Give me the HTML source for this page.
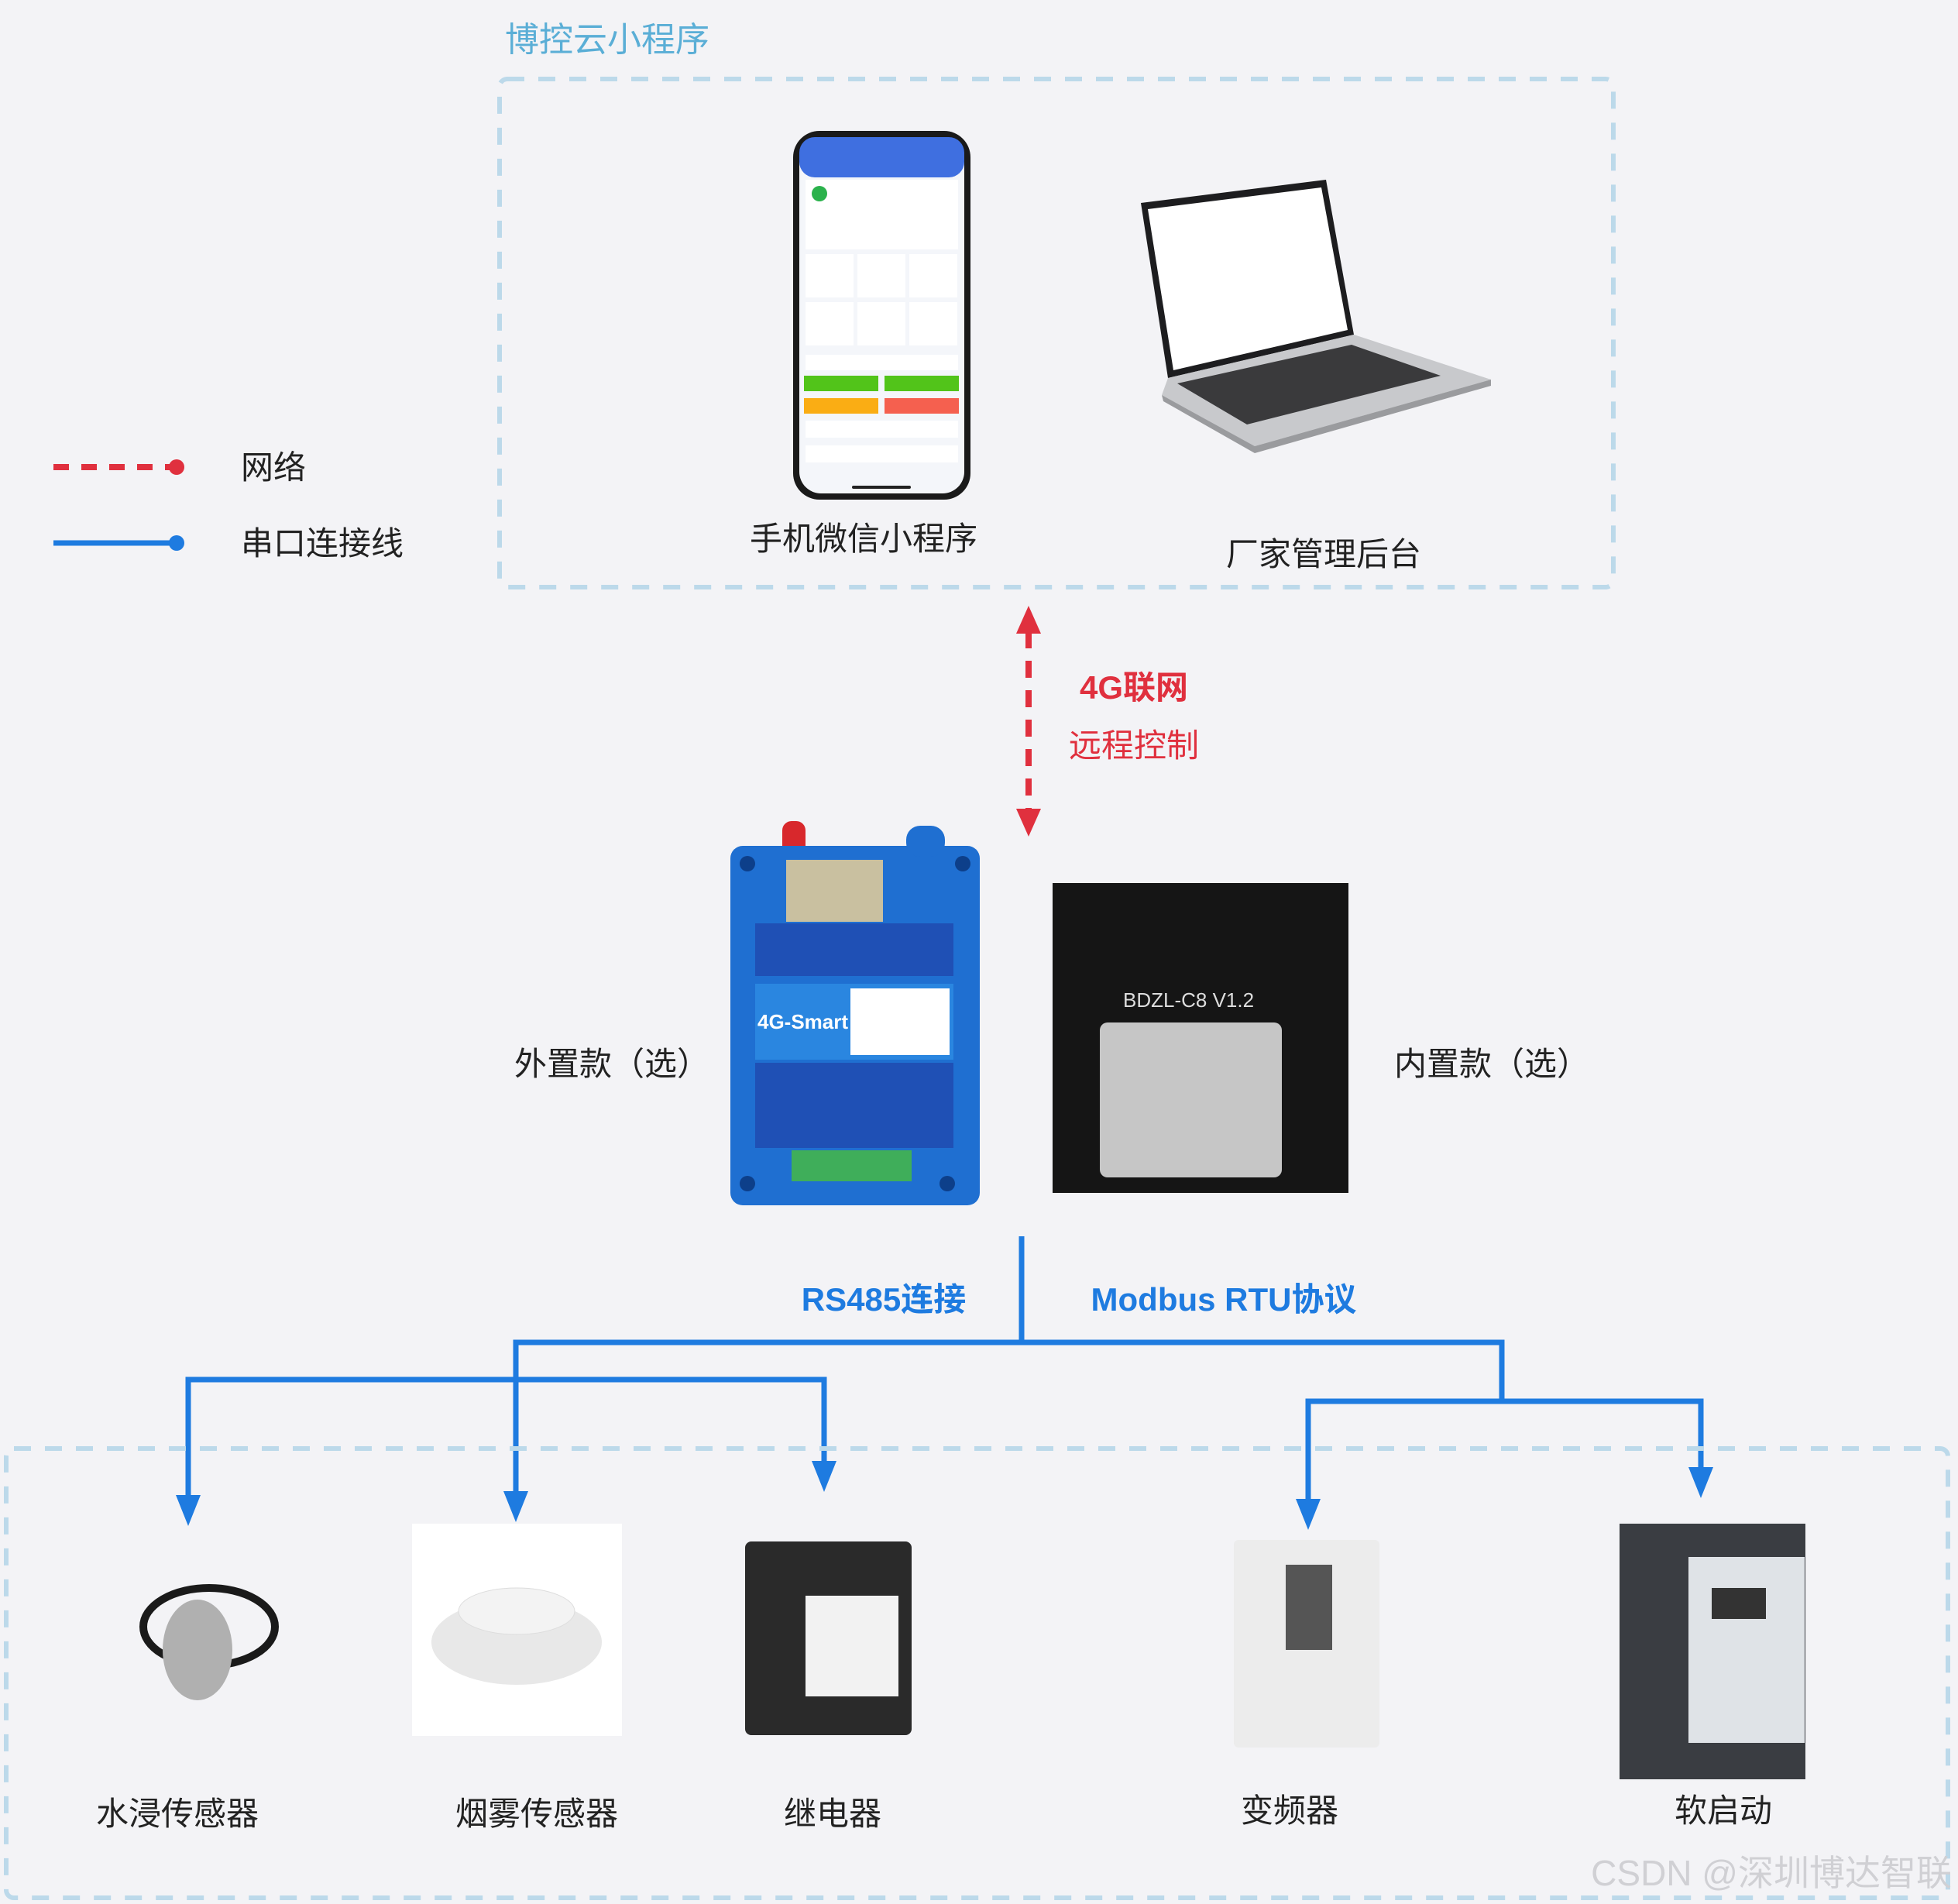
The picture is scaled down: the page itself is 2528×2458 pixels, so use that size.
<!DOCTYPE html>
<html><head><meta charset="utf-8">
<style>
html,body{margin:0;padding:0;background:#f3f3f6;}
svg{display:block}
text{font-family:"Liberation Sans","Noto Sans CJK SC",sans-serif;}
</style></head>
<body>
<svg width="2528" height="2458" viewBox="0 0 2528 2458" xmlns="http://www.w3.org/2000/svg">
<defs>
<marker id="ab" viewBox="0 0 10 10" refX="5" refY="9" markerWidth="5" markerHeight="7" orient="auto-start-reverse" markerUnits="userSpaceOnUse"></marker>
</defs>
<rect width="2528" height="2458" fill="#f3f3f6"/>
<!-- Top dashed box -->
<text x="652" y="66" font-size="44" fill="#5aaed6">博控云小程序</text>
<rect x="645" y="102" width="1438" height="656" rx="10" fill="none" stroke="#bcd9ea" stroke-width="6" stroke-dasharray="22 18"/>
<!-- Legend -->
<line x1="69" y1="603" x2="225" y2="603" stroke="#e0303e" stroke-width="8" stroke-dasharray="20 16"/>
<circle cx="228" cy="603" r="10" fill="#e0303e"/>
<text x="311" y="618" font-size="42" fill="#222">网络</text>
<line x1="69" y1="701" x2="228" y2="701" stroke="#1e7be0" stroke-width="7"/>
<circle cx="228" cy="701" r="10" fill="#1e7be0"/>
<text x="311" y="716" font-size="42" fill="#222">串口连接线</text>
<!-- Phone -->
<rect x="1024" y="169" width="229" height="476" rx="34" fill="#1a1a1a"/>
<rect x="1032" y="177" width="213" height="460" rx="28" fill="#f4f6fa"/>
<rect x="1032" y="177" width="213" height="52" rx="20" fill="#3f6fe0"/>
<rect x="1040" y="232" width="197" height="90" fill="#fff"/>
<circle cx="1058" cy="250" r="10" fill="#2bb24c"/>
<rect x="1040" y="328" width="62" height="56" fill="#fff"/><rect x="1107" y="328" width="62" height="56" fill="#fff"/><rect x="1174" y="328" width="62" height="56" fill="#fff"/>
<rect x="1040" y="390" width="62" height="56" fill="#fff"/><rect x="1107" y="390" width="62" height="56" fill="#fff"/><rect x="1174" y="390" width="62" height="56" fill="#fff"/>
<rect x="1040" y="458" width="197" height="20" fill="#fff"/>
<rect x="1038" y="485" width="96" height="20" fill="#52c41a"/><rect x="1142" y="485" width="96" height="20" fill="#52c41a"/>
<rect x="1038" y="514" width="96" height="20" fill="#faad14"/><rect x="1142" y="514" width="96" height="20" fill="#f5604f"/>
<rect x="1040" y="543" width="197" height="22" fill="#fff"/><rect x="1040" y="575" width="197" height="22" fill="#fff"/>
<rect x="1100" y="627" width="76" height="4" rx="2" fill="#222"/>
<text x="1115" y="710" font-size="42" fill="#222" text-anchor="middle">手机微信小程序</text>
<!-- Laptop -->
<polygon points="1473,262 1712,232 1748,432 1508,488" fill="#1d1d1f"/>
<polygon points="1482,270 1706,242 1740,426 1515,478" fill="#fff"/>
<polygon points="1508,488 1748,432 1925,490 1620,576 1500,510" fill="#c8c9cc"/>
<polygon points="1520,495 1745,445 1860,485 1610,548" fill="#3a3a3c"/>
<polygon points="1500,510 1620,576 1925,490 1925,498 1620,585 1502,518" fill="#9a9b9e"/>
<text x="1709" y="730" font-size="42" fill="#222" text-anchor="middle">厂家管理后台</text>
<!-- Red arrow -->
<line x1="1328" y1="815" x2="1328" y2="1045" stroke="#e0303e" stroke-width="8" stroke-dasharray="22 16"/>
<polygon points="1328,782 1312,818 1344,818" fill="#e0303e"/>
<polygon points="1328,1080 1312,1044 1344,1044" fill="#e0303e"/>
<text x="1394" y="902" font-size="42" font-weight="bold" fill="#e0303e">4G联网</text>
<text x="1380" y="977" font-size="42" fill="#e0303e">远程控制</text>
<!-- External device -->
<rect x="1010" y="1060" width="30" height="55" rx="12" fill="#d8282c"/>
<rect x="943" y="1092" width="322" height="464" rx="16" fill="#1f6fd1"/>
<rect x="1170" y="1066" width="50" height="40" rx="18" fill="#1f6fd1"/>
<rect x="1015" y="1110" width="125" height="80" fill="#c9c0a0"/>
<rect x="975" y="1192" width="256" height="68" fill="#1f50b5"/>
<rect x="975" y="1270" width="256" height="98" fill="#2a86e0"/>
<rect x="1098" y="1276" width="128" height="86" fill="#fff"/>
<text x="978" y="1328" font-size="26" font-weight="bold" fill="#fff">4G-Smart</text>
<rect x="975" y="1372" width="256" height="110" fill="#1f50b5"/>
<rect x="1022" y="1485" width="155" height="40" fill="#3fae5a"/>
<circle cx="965" cy="1115" r="10" fill="#0d3f8a"/><circle cx="1243" cy="1115" r="10" fill="#0d3f8a"/>
<circle cx="965" cy="1528" r="10" fill="#0d3f8a"/><circle cx="1223" cy="1528" r="10" fill="#0d3f8a"/>
<!-- Internal module -->
<rect x="1359" y="1140" width="382" height="400" fill="#151515"/>
<rect x="1420" y="1320" width="235" height="200" rx="10" fill="#c6c6c6"/>
<text x="1450" y="1300" font-size="26" fill="#ddd">BDZL-C8 V1.2</text>
<text x="790" y="1388" font-size="42" fill="#222" text-anchor="middle">外置款（选）</text>
<text x="1926" y="1388" font-size="42" fill="#222" text-anchor="middle">内置款（选）</text>
<!-- Blue connectors -->
<g stroke="#1e7be0" stroke-width="7" fill="none">
<line x1="1319" y1="1596" x2="1319" y2="1733"/>
<polyline points="666,1945 666,1733 1939,1733 1939,1809"/>
<polyline points="243,1940 243,1781 1064,1781 1064,1896"/>
<polyline points="1689,1945 1689,1809 2196,1809 2196,1904"/>
</g>
<g fill="#1e7be0">
<polygon points="666,1965 650,1925 682,1925"/>
<polygon points="243,1970 227,1930 259,1930"/>
<polygon points="1064,1926 1048,1886 1080,1886"/>
<polygon points="1689,1975 1673,1935 1705,1935"/>
<polygon points="2196,1934 2180,1894 2212,1894"/>
</g>
<text x="1141" y="1692" font-size="42" font-weight="bold" fill="#1e7be0" text-anchor="middle">RS485连接</text>
<text x="1580" y="1692" font-size="42" font-weight="bold" fill="#1e7be0" text-anchor="middle">Modbus RTU协议</text>
<!-- Bottom dashed box -->
<rect x="8" y="1870" width="2507" height="580" rx="10" fill="none" stroke="#bcd9ea" stroke-width="6" stroke-dasharray="22 18"/>
<!-- Devices -->
<ellipse cx="270" cy="2100" rx="85" ry="50" fill="none" stroke="#1a1a1a" stroke-width="10"/>
<ellipse cx="255" cy="2130" rx="45" ry="65" fill="#b0b0b0"/>
<rect x="532" y="1967" width="271" height="274" fill="#fff"/>
<ellipse cx="667" cy="2120" rx="110" ry="55" fill="#e8e8e8"/>
<ellipse cx="667" cy="2080" rx="75" ry="30" fill="#f3f3f3" stroke="#ddd"/>
<rect x="962" y="1990" width="215" height="250" rx="8" fill="#2a2a2a"/>
<rect x="1040" y="2060" width="120" height="130" fill="#f2f2f2"/>
<rect x="1593" y="1988" width="188" height="268" rx="6" fill="#ececec"/>
<rect x="1660" y="2020" width="60" height="110" fill="#555"/>
<rect x="2091" y="1967" width="240" height="330" fill="#3a3d42"/>
<rect x="2180" y="2010" width="150" height="240" fill="#dfe3e7"/>
<rect x="2210" y="2050" width="70" height="40" fill="#333"/>
<text x="229" y="2356" font-size="42" fill="#222" text-anchor="middle">水浸传感器</text>
<text x="693" y="2356" font-size="42" fill="#222" text-anchor="middle">烟雾传感器</text>
<text x="1075" y="2356" font-size="42" fill="#222" text-anchor="middle">继电器</text>
<text x="1665" y="2352" font-size="42" fill="#222" text-anchor="middle">变频器</text>
<text x="2225" y="2352" font-size="42" fill="#222" text-anchor="middle">软启动</text>
<text x="2520" y="2434" font-size="46" fill="#d0d0d4" text-anchor="end">CSDN @深圳博达智联</text>
</svg>
</body></html>
